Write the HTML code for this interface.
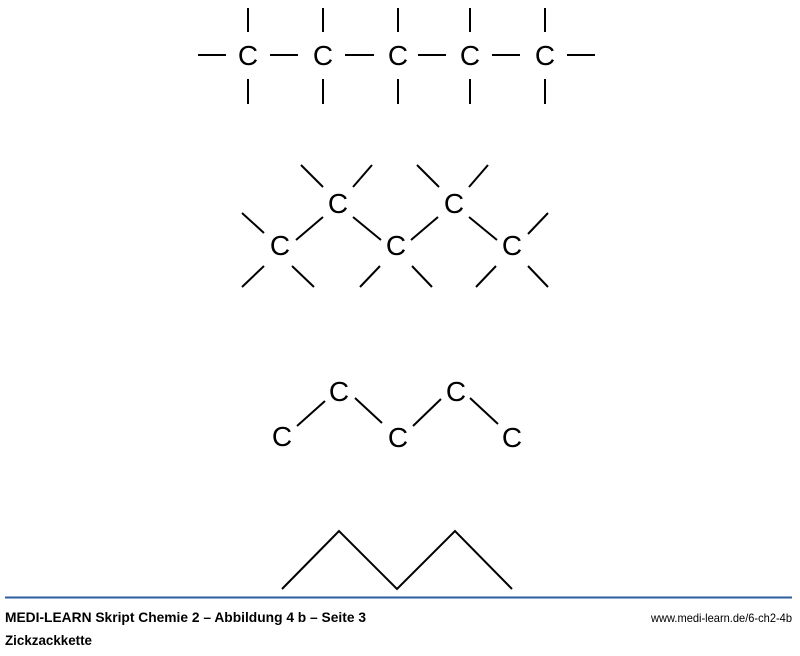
<!DOCTYPE html>
<html><head><meta charset="utf-8"><style>
body{margin:0;background:#fff;width:800px;height:651px;overflow:hidden}
</style></head><body>
<svg width="800" height="651" xmlns="http://www.w3.org/2000/svg">
<g stroke="#000" stroke-width="2" fill="none">
<path d="M248 8V32M248 79V104M323 8V32M323 79V104M398 8V32M398 79V104M470 8V32M470 79V104M545 8V32M545 79V104"/>
<path d="M198 55H226M270 55H298M345 55H374M418 55H446M492 55H520M567 55H595"/>
<path d="M242 213L264 233M242 287L264 266M292 266L314 287M296 240L323 217"/>
<path d="M301 165L323 187M353 187L372 165M353 217L381 240"/>
<path d="M380 266L360 287M412 266L432 287M411 240L438 217"/>
<path d="M417 165L439 187M469 187L488 165M469 217L497 240"/>
<path d="M496 266L476 287M528 266L548 287M528 234L548 213"/>
<path d="M297 426L325 401M355 398L382 423M413 426L441 399M470 398L498 424"/>
<polyline points="282,589 339,531 397,589 455,531 512,589"/>
</g>
<g font-family="Liberation Sans, sans-serif" font-size="28" text-anchor="middle">
<text x="248" y="65">C</text><text x="323" y="65">C</text><text x="398" y="65">C</text><text x="470" y="65">C</text><text x="545" y="65">C</text>
<text x="280" y="255">C</text><text x="338" y="213">C</text><text x="396" y="255">C</text><text x="454" y="213">C</text><text x="512" y="255">C</text>
<text x="282" y="446">C</text><text x="339" y="401">C</text><text x="398" y="447">C</text><text x="456" y="401">C</text><text x="512" y="447">C</text>
</g>
<line x1="5" y1="597.5" x2="792" y2="597.5" stroke="#2c5d9e" stroke-width="2"/>
<text x="5" y="622" font-family="Liberation Sans, sans-serif" font-size="14" font-weight="bold" textLength="361" lengthAdjust="spacingAndGlyphs">MEDI-LEARN Skript Chemie 2 – Abbildung 4 b – Seite 3</text>
<text x="5" y="645" font-family="Liberation Sans, sans-serif" font-size="14" font-weight="bold" textLength="87" lengthAdjust="spacingAndGlyphs">Zickzackkette</text>
<text x="651" y="622" font-family="Liberation Sans, sans-serif" font-size="12" textLength="141" lengthAdjust="spacingAndGlyphs">www.medi-learn.de/6-ch2-4b</text>
</svg>
</body></html>
